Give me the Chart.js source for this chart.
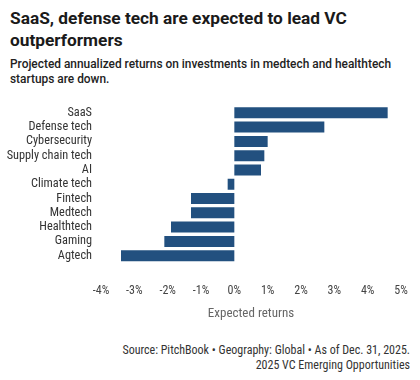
<!DOCTYPE html>
<html>
<head>
<meta charset="utf-8">
<script src="https://cdn.jsdelivr.net/npm/chart.js@4"></script>
<style>
  html, body { margin: 0; padding: 0; background: #fff; width: 420px; height: 380px; overflow: hidden; }
  #title { position: absolute; left: 10px; top: 7px; width: 405px; font-family: Roboto, sans-serif; font-weight: 700; font-size: 17.3px; line-height: 22px; color: #1a1a1a; }
  #subtitle { position: absolute; left: 10px; top: 57px; width: 405px; font-family: Roboto, sans-serif; font-weight: 500; font-size: 11.9px; line-height: 15px; color: #222; }
  #wrap { position: absolute; left: 0; top: 95px; width: 420px; height: 227px; }
  #source { position: absolute; right: 10px; top: 342.5px; text-align: right; font-family: "Liberation Sans Narrow", "Roboto Condensed", Roboto, sans-serif; font-size: 12px; line-height: 15px; color: #333; }
</style>
</head>
<body>
<div id="title">SaaS, defense tech are expected to lead VC outperformers</div>
<div id="subtitle">Projected annualized returns on investments in medtech and healthtech startups are down.</div>
<div id="wrap"><canvas id="c"></canvas></div>
<div id="source">Source: PitchBook • Geography: Global • As of Dec. 31, 2025.<br>2025 VC Emerging Opportunities</div>
<script>
const categories = ["SaaS", "Defense tech", "Cybersecurity", "Supply chain tech", "AI", "Climate tech", "Fintech", "Medtech", "Healthtech", "Gaming", "Agtech"];
const expectedReturns = [4.6, 2.7, 1.0, 0.9, 0.8, -0.2, -1.3, -1.3, -1.9, -2.1, -3.4];
const tickValues = [-4, -3, -2, -1, 0, 1, 2, 3, 4, 5];
const axisTitle = "Expected returns";

const narrow = '"Liberation Sans Narrow", "Roboto Condensed", Roboto, sans-serif';

new Chart(document.getElementById('c'), {
  type: 'bar',
  data: {
    labels: categories,
    datasets: [{
      data: expectedReturns,
      backgroundColor: '#22507f',
      borderWidth: 0,
      barPercentage: 0.77,
      categoryPercentage: 1.0
    }]
  },
  options: {
    indexAxis: 'y',
    responsive: true,
    maintainAspectRatio: false,
    animation: false,
    layout: { padding: { top: 10.7, right: 19, left: 0, bottom: 0 } },
    plugins: { legend: { display: false }, tooltip: { enabled: false } },
    scales: {
      x: {
        min: tickValues[0],
        max: tickValues[tickValues.length - 1],
        afterBuildTicks: (s) => { s.ticks = tickValues.map(v => ({ value: v })); },
        afterFit: (s) => { s.height = 59.2; s.paddingLeft = 0; s.paddingRight = 0; },
        grid: { display: false, drawTicks: false },
        border: { display: false },
        ticks: { padding: 21.2, maxRotation: 0, color: '#444', font: { family: narrow, size: 12 }, callback: (v) => v + '%' },
        title: { display: true, text: axisTitle, color: '#666', font: { family: narrow, size: 13 }, padding: { top: 8, bottom: 0 } }
      },
      y: {
        grid: { display: false, drawTicks: false },
        border: { display: false },
        afterFit: (s) => { s.width = 101; s.paddingTop = 0; s.paddingBottom = 0; },
        ticks: { padding: 9, color: '#333', font: { family: narrow, size: 12.3 }, autoSkip: false }
      }
    }
  }
});
</script>
</body>
</html>
